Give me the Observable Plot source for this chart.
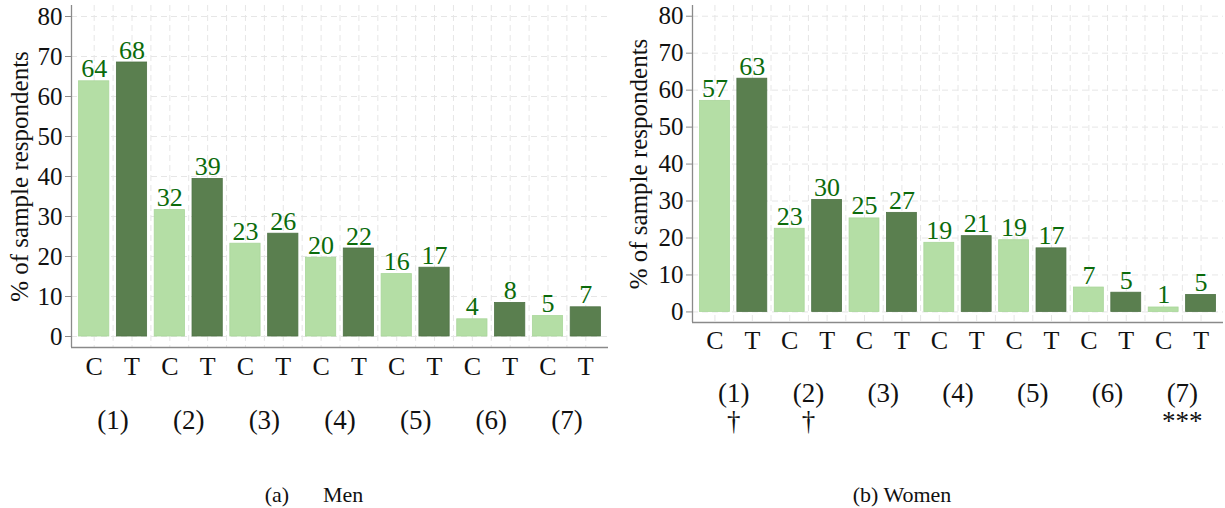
<!DOCTYPE html>
<html><head><meta charset="utf-8">
<script src="https://cdn.jsdelivr.net/npm/d3@7"></script>
<script src="https://cdn.jsdelivr.net/npm/@observablehq/plot@0.6"></script>
<style>
body{margin:0;background:#fff;}
#wrap{position:relative;width:1225px;height:508px;font-family:"Liberation Serif",serif;overflow:hidden;}
.panel{position:absolute;top:0;}
.cap{position:absolute;top:483px;font-size:22px;line-height:24px;white-space:pre;color:#111;transform:translateX(-50%);}
</style></head><body><div id="wrap"></div>
<script>
// Categories
const arms = ["C","T","C","T","C","T","C","T","C","T","C","T","C","T"];
const groups = ["(1)","(2)","(3)","(4)","(5)","(6)","(7)"];
// Men (a)
const menValues = [63.8, 68.5, 31.6, 39.4, 23.2, 25.7, 19.7, 22.0, 15.6, 17.2, 4.3, 8.4, 5.1, 7.3];
const menLabels = ["64","68","32","39","23","26","20","22","16","17","4","8","5","7"];
// Women (b)
const womenValues = [57.1, 63.1, 22.5, 30.3, 25.3, 26.8, 18.7, 20.5, 19.4, 17.2, 6.6, 5.2, 1.2, 4.6];
const womenLabels = ["57","63","23","30","25","27","19","21","19","17","7","5","1","5"];
const womenNotes = ["†","†","","","","","***"];
const yTicks = [0,10,20,30,40,50,60,70,80];
const yLabel = "% of sample respondents";

const colors = {C: "#b4dea5", T: "#5a7f4f"};
const textGreen = "#0b6b0b";
const axisGray = "#8a8a8a";
const gridGray = "#e6e6e6";

function panel(o) {
  const data = o.values.map((v, i) => ({i, arm: arms[i], value: v, label: o.labels[i]}));
  const gdata = groups.map((g, k) => ({g, mid: 2 * k + 0.5, note: o.notes ? o.notes[k] : ""}));
  const yb = o.yDomain[0];
  const marks = [
    Plot.gridY({ticks: yTicks, stroke: gridGray, strokeOpacity: 1, strokeDasharray: "6,4"}),
    Plot.gridX({ticks: d3.range(0, 13.01, 0.5), stroke: gridGray, strokeOpacity: 1, strokeDasharray: "6,4"}),
    Plot.rectY(data, {x1: d => d.i - 0.4, x2: d => d.i + 0.4, y1: 0, y2: "value",
      fill: d => colors[d.arm], stroke: d => d.arm === "T" ? "#4e7345" : "#a9d69a", strokeWidth: 0.8}),
    Plot.text(data, {x: "i", y: "value", text: "label", dy: -4, lineAnchor: "bottom", fontSize: 26, fill: textGreen}),
    Plot.ruleX([-0.6], {y1: o.yDomain[0], y2: o.yDomain[1], stroke: axisGray, strokeWidth: 1.3}),
    Plot.ruleY([yb], {x1: -0.6, x2: 13.6, stroke: axisGray, strokeWidth: 1.3}),
    Plot.axisY({ticks: yTicks, tickSize: 6, tickPadding: 3, fontSize: 25, stroke: axisGray, fill: "#111", label: null}),
    Plot.axisX({ticks: d3.range(14), tickFormat: i => arms[i], tickSize: 0, tickPadding: o.tickPad, fontSize: 26, fill: "#111", label: null}),
    Plot.text(gdata, {x: "mid", y: () => yb, text: "g", dy: o.groupDy, lineAnchor: "middle", fontSize: 27, fill: "#111"}),
    Plot.text([yLabel], {frameAnchor: "left", text: d => d, rotate: -90, dx: o.yLabelX - o.marginLeft, fontSize: 25, fill: "#111", lineAnchor: "middle", textAnchor: "middle"})
  ];
  if (o.notes) {
    marks.push(Plot.text(gdata, {x: "mid", y: () => yb, text: "note", dy: o.noteDy, lineAnchor: "middle", fontSize: 27, fill: "#111"}));
  }
  const svg = Plot.plot({
    width: o.width, height: 450,
    marginLeft: o.marginLeft, marginRight: o.marginRight, marginTop: 5, marginBottom: o.marginBottom,
    style: {fontFamily: "'Liberation Serif', serif", background: "transparent", overflow: "visible"},
    x: {type: "linear", domain: [-0.6, 13.6]},
    y: {domain: o.yDomain},
    marks
  });
  const div = document.createElement("div");
  div.className = "panel";
  div.style.left = o.left + "px";
  div.appendChild(svg);
  return div;
}

const wrap = document.getElementById("wrap");
wrap.appendChild(panel({values: menValues, labels: menLabels, left: 0, width: 612, marginLeft: 71, marginRight: 4,
  marginBottom: 103, yDomain: [-2.75, 82.75], tickPad: 9, groupDy: 73, yLabelX: 19}));
wrap.appendChild(panel({values: womenValues, labels: womenLabels, notes: womenNotes, left: 610, width: 615, marginLeft: 82, marginRight: 2,
  marginBottom: 128, yDomain: [-2.86, 82.9], tickPad: 8, groupDy: 71, noteDy: 99, yLabelX: 28}));

const c1 = document.createElement("div");
c1.className = "cap"; c1.style.left = "314px";
c1.innerHTML = '(a)<span style="margin-left:34px">Men</span>';
wrap.appendChild(c1);
const c2 = document.createElement("div");
c2.className = "cap"; c2.style.left = "902px";
c2.textContent = "(b) Women";
wrap.appendChild(c2);
</script></body></html>
